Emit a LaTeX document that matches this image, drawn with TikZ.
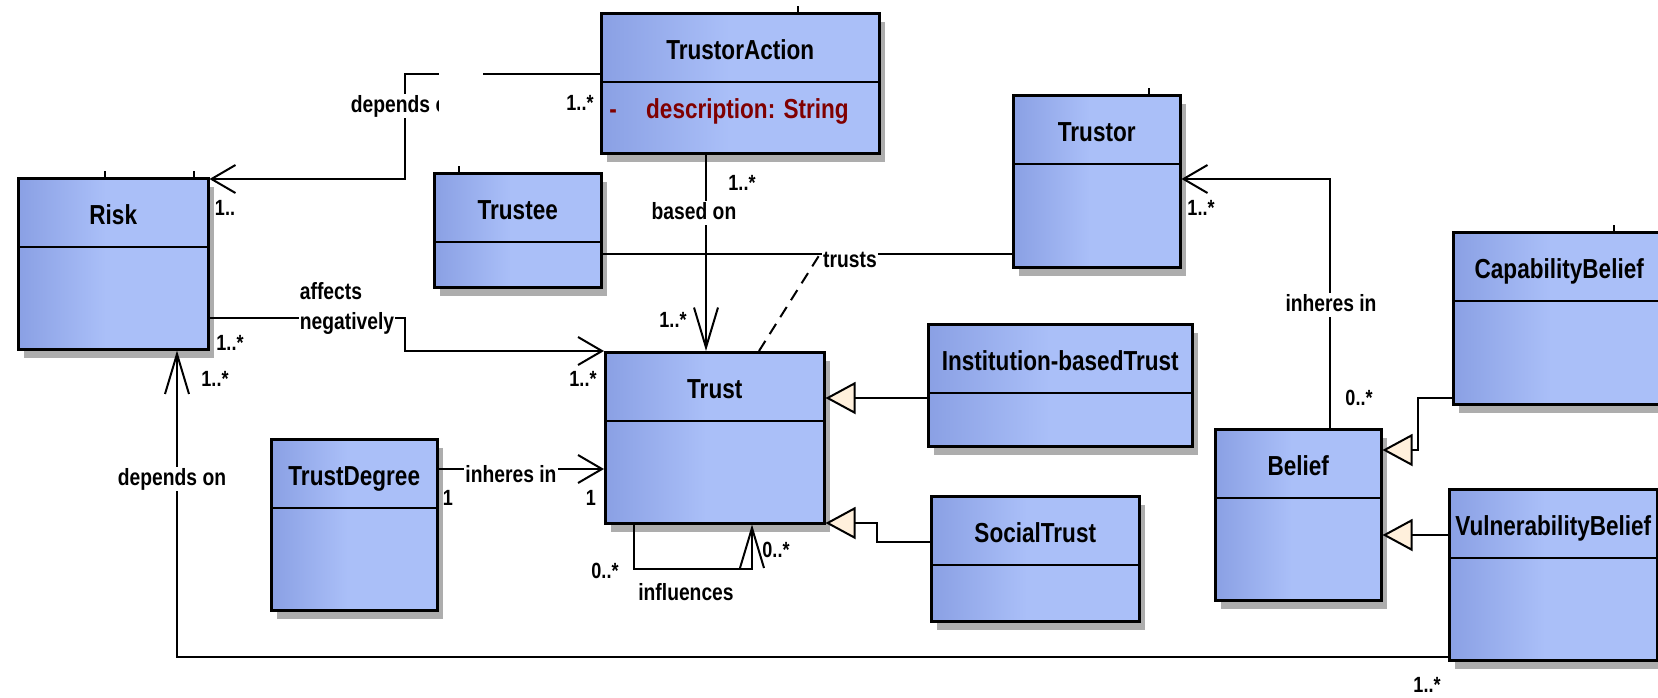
\documentclass[tikz,border=0pt]{standalone}
\usepackage{fontspec}
\usepackage{tikz}
\usetikzlibrary{arrows.meta,positioning,calc,shadows}
\newfontfamily\umlfont[FakeStretch=0.82]{Liberation Sans}

\definecolor{boxdark}{RGB}{138,160,228}
\definecolor{boxlight}{RGB}{170,191,248}
\definecolor{genfill}{RGB}{255,240,220}
\definecolor{attrred}{RGB}{128,0,0}
\pgfdeclarehorizontalshading{classfill}{100bp}{color(0bp)=(boxdark); color(25bp)=(boxdark); color(48bp)=(boxlight); color(100bp)=(boxlight)}

\tikzset{
  classbox/.style={draw, line width=2.5pt, shade, shading=classfill, anchor=north west, inner sep=0pt,
    drop shadow={shadow xshift=6pt, shadow yshift=-9pt, opacity=1, fill=black!32}},
  classline/.style={line width=2.5pt},
  classname/.style={font=\umlfont\bfseries\fontsize{27.5}{30}\selectfont, inner sep=0pt, text height=20pt, text depth=0pt},
  lbl/.style={font=\umlfont\bfseries\fontsize{23.5}{30}\selectfont, fill=white, inner sep=1pt, text height=17pt, text depth=5pt},
  mult/.style={font=\umlfont\bfseries\fontsize{22}{24}\selectfont, inner sep=0pt},
  conn/.style={draw, line width=2pt},
  assoc/.style={conn, -{Straight Barb[length=24pt, width=28pt]}},
  assocv/.style={conn, -{Straight Barb[length=40pt, width=24pt]}},
  gen/.style={conn, -{Triangle[length=30pt, width=32pt, fill=genfill]}},
  tick/.style={line width=1.5pt}
}

% class box: name, x, y (top left), width, height, title
\newcommand{\umlclass}[6]{%
  \node[classbox, minimum width=#4pt, minimum height=#5pt] (#1) at (#2,#3) {};
  \draw[classline] ([yshift=-70pt]#1.north west) -- ([yshift=-70pt]#1.north east);
  \node[classname] (#1-name) at ([yshift=-37pt]#1.north) {#6};
}

\begin{document}
\begin{tikzpicture}[x=1pt, y=-1pt]
\useasboundingbox (0,0) rectangle (1658,697);

    % classes
    \umlclass{action}{600}{12}{278}{140}{TrustorAction}
    \umlclass{risk}{17}{177}{190}{171}{Risk}
    \umlclass{trustee}{433}{172}{167}{114}{Trustee}
    \umlclass{trustor}{1012}{94}{167}{172}{Trustor}
    \umlclass{trust}{604}{351}{219}{171}{Trust}
    \umlclass{degree}{270}{438}{166}{171}{TrustDegree}
    \umlclass{instit}{927}{323}{264}{122}{Institution-basedTrust}
    \umlclass{social}{930}{495}{208}{125}{SocialTrust}
    \umlclass{belief}{1214}{428}{166}{171}{Belief}
    \umlclass{capab}{1452}{231}{212}{172}{CapabilityBelief}
    \umlclass{vulner}{1448}{488}{208}{171}{VulnerabilityBelief}

    \node[classname, text=attrred] (attr-vis) at (613,108) {-};
    \node[classname, text=attrred, anchor=west] (attr) at (646,108) {description: String};

    % small marks on the box tops
    \foreach \tx/\ty in {105/177, 194/177, 459/172, 798/12, 1149/94, 1614/231}
        \draw[tick] (\tx,\ty) -- ++(0,-6);

    % associations
    \draw[assoc] (action.west |- 0,74) -- (405,74) -- (405,179) -- (risk.east |- 0,179);
    \draw[assocv] (action.south -| 706,0) -- (trust.north -| 706,0);
    \draw[conn] (trustee.east |- 0,254) -- (trustor.west |- 0,254);
    \coordinate (trusts-mid) at (820,254);
    \draw[conn, dash pattern=on 12pt off 8pt] (trust.north -| 759,0) -- (trusts-mid);
    \draw[assoc] (risk.east |- 0,318) -- (405,318) -- (405,351) -- (trust.west |- 0,351);
    \draw[assocv] (vulner.west |- 0,657) -- (177,657) -- (risk.south -| 177,0);
    \draw[assoc] (degree.east |- 0,469) -- (trust.west |- 0,469);
    \draw[assocv] (trust.south -| 634,0) -- (634,569) -- (752,569) -- (trust.south -| 752,0);
    \draw[assoc] (belief.north -| 1330,0) -- (1330,179) -- (trustor.east |- 0,179);

    % generalizations
    \draw[gen] (instit.west |- 0,398) -- (trust.east |- 0,398);
    \draw[gen] (social.west |- 0,542) -- (877,542) -- (877,523) -- (trust.east |- 0,523);
    \draw[gen] (capab.west |- 0,398) -- (1418,398) -- (1418,450) -- (belief.east |- 0,450);
    \draw[gen] (vulner.west |- 0,535) -- (belief.east |- 0,535);

    % association labels
    \node[lbl] (l-depends) at (405,106) {depends on};
    \fill[white] (439,66) rectangle (483,118);
    \node[lbl] (l-based) at (694,213) {based on};
    \node[lbl] (l-trusts) at (850,261) {trusts};
    \node[lbl, align=left, text height=, text depth=] (l-affects) at (347,308) {affects\\negatively};
    \node[lbl] (l-depends2) at (172,479) {depends on};
    \node[lbl] (l-inheres) at (511,476) {inheres in};
    \node[lbl] (l-influences) at (686,594) {influences};
    \node[lbl] (l-inheres2) at (1331,305) {inheres in};

    % multiplicities
    \node[mult] (m1) at (580,103) {1..*};
    \node[mult] (m2) at (225,208) {1..};
    \node[mult] (m3) at (742,183) {1..*};
    \node[mult] (m4) at (673,320) {1..*};
    \node[mult] (m5) at (230,343) {1..*};
    \node[mult] (m6) at (583,379) {1..*};
    \node[mult] (m7) at (215,379) {1..*};
    \node[mult] (m8) at (1427,685) {1..*};
    \node[mult] (m9) at (448,498) {1};
    \node[mult] (m10) at (591,498) {1};
    \node[mult] (m11) at (605,571) {0..*};
    \node[mult] (m12) at (776,550) {0..*};
    \node[mult] (m13) at (1201,208) {1..*};
    \node[mult] (m14) at (1359,398) {0..*};
\end{tikzpicture}
\end{document}
